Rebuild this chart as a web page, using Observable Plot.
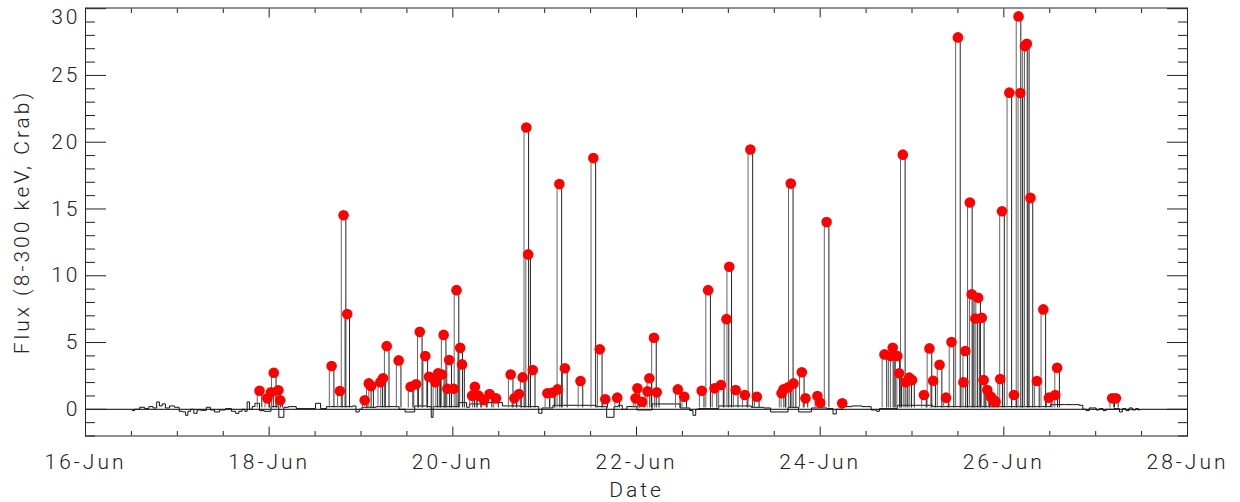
<!DOCTYPE html>
<html><head><meta charset="utf-8">
<script src="https://cdn.jsdelivr.net/npm/d3@7"></script>
<script src="https://cdn.jsdelivr.net/npm/@observablehq/plot@0.6"></script>
<style>
html,body{margin:0;padding:0;background:#fff;}
#chart svg{display:block}
</style></head><body><div id="chart"></div>
<script>
// ---- Flare peaks (day of June 2015, flux in Crab) ----
const flareDay = [17.895,17.98,18.02,18.05,18.10,18.12,18.68,18.77,18.81,18.85,
  19.04,19.085,19.11,19.21,19.24,19.28,19.41,19.54,19.60,19.64,19.70,19.74,19.81,19.84,19.88,19.90,19.94,19.96,
  20.01,20.04,20.08,20.10,20.21,20.24,20.28,20.34,20.40,20.47,20.63,20.67,20.72,20.76,20.80,20.82,20.87,
  21.03,21.08,21.14,21.16,21.22,21.39,21.53,21.60,21.66,21.79,21.99,
  22.01,22.06,22.12,22.14,22.19,22.22,22.45,22.52,22.71,22.78,22.85,22.92,22.98,
  23.01,23.08,23.18,23.24,23.31,23.58,23.60,23.65,23.68,23.71,23.80,23.84,23.97,
  24.00,24.07,24.24,24.70,24.77,24.79,24.84,24.86,24.90,24.93,24.97,
  25.00,25.13,25.19,25.23,25.30,25.37,25.43,25.50,25.56,25.58,25.63,25.65,25.69,25.72,25.76,25.78,25.82,25.86,25.88,25.89,25.91,25.96,25.98,
  26.06,26.11,26.16,26.18,26.23,26.25,26.29,26.36,26.43,26.49,26.56,26.58,
  27.18,27.22];
const flareFlux = [1.39,0.82,1.27,2.74,1.42,0.67,3.24,1.37,14.53,7.13,
  0.67,1.94,1.74,2.02,2.32,4.73,3.66,1.69,1.87,5.80,3.99,2.44,2.02,2.69,2.61,5.57,1.54,3.69,
  1.54,8.92,4.60,3.36,1.02,1.69,1.02,0.70,1.14,0.82,2.61,0.82,1.14,2.39,21.10,11.60,2.94,
  1.20,1.24,1.49,16.87,3.07,2.12,18.82,4.49,0.75,0.87,0.82,
  1.57,0.57,1.34,2.32,5.36,1.27,1.49,0.94,1.39,8.92,1.57,1.82,6.75,
  10.67,1.44,1.07,19.45,0.94,1.20,1.49,1.64,16.90,1.94,2.77,0.82,0.99,
  0.49,14.03,0.45,4.11,3.99,4.61,3.99,2.69,19.07,2.02,2.37,
  2.19,1.07,4.56,2.14,3.34,0.87,5.03,27.85,2.02,4.36,15.48,8.62,6.80,8.35,6.85,2.19,1.44,0.94,0.70,0.70,0.57,2.27,14.83,
  23.71,1.07,29.42,23.68,27.20,27.37,15.83,2.12,7.48,0.87,1.07,3.11,
  0.82,0.82];

// ---- Quiescent light curve (day of June 2015, flux in Crab) ----
const baseDay = [16.51,16.56,16.62,16.67,16.71,16.76,16.79,16.82,16.85,16.89,16.94,17.00,17.04,17.08,17.10,17.13,17.16,17.20,17.23,17.29,
  17.34,17.38,17.43,17.49,17.56,17.62,17.65,17.69,17.72,17.75,17.77,17.80,17.83,17.86,17.93,17.96,18.08,18.13,18.15,18.17,18.25,
  18.34,18.42,18.49,18.52,18.60,18.65,18.72,18.89,18.93,18.96,19.00,19.02,19.15,19.18,19.33,19.37,19.46,19.50,19.67,19.755,19.775,19.795,
  19.99,20.13,20.17,20.19,20.52,20.56,20.92,20.95,20.99,21.19,21.30,21.46,21.66,21.69,21.74,21.77,21.83,21.86,21.93,22.08,22.26,22.39,
  22.56,22.60,22.63,22.66,22.69,23.10,23.15,23.35,23.42,23.50,23.55,23.75,23.78,23.88,23.93,24.03,24.12,24.16,24.19,24.29,
  24.40,24.51,24.60,24.63,24.66,25.02,25.05,25.40,25.85,26.40,26.62,26.70,26.80,26.84,26.88,26.91,26.95,26.99,27.02,27.06,27.10,27.13,27.15,
  27.25,27.27,27.31,27.35,27.38,27.42,27.45,27.48];
const baseFlux = [-0.10,0.00,0.15,0.05,0.20,0.10,0.55,0.25,0.40,0.10,0.25,0.15,-0.15,-0.20,-0.45,-0.15,0.00,-0.30,-0.05,-0.08,
  0.15,-0.05,-0.20,-0.05,0.05,-0.15,-0.30,-0.15,0.00,-0.15,0.55,0.00,0.20,0.45,-0.10,-0.15,0.20,-0.60,-0.60,0.15,0.20,
  0.05,0.05,0.05,0.45,0.05,0.20,0.20,0.20,0.25,-0.20,0.00,0.15,0.15,0.20,0.20,0.20,0.00,-0.20,0.25,0.20,-0.60,0.20,
  0.20,0.50,0.15,0.40,0.50,0.25,0.20,-0.30,0.10,0.30,0.30,0.30,0.20,-0.60,-0.60,0.20,0.30,0.00,0.20,-0.05,0.40,0.40,
  0.10,-0.10,-0.45,0.00,0.05,0.25,0.25,0.15,0.10,-0.20,-0.20,0.15,-0.20,-0.20,0.10,0.10,0.05,-0.35,0.00,0.20,
  0.25,0.20,-0.05,-0.15,0.05,0.30,0.30,0.20,0.20,0.20,0.35,0.35,0.35,0.30,0.00,-0.10,0.10,0.10,-0.05,0.05,-0.10,0.00,0.00,
  0.05,-0.20,0.05,-0.10,0.10,-0.05,0.05,-0.05];

// ---- Axis ticks and labels ----
const yLabelTicks = [0, 5, 10, 15, 20, 25];
const yTopLabel = [30];
const yMajorTicks = [0, 5, 10, 15, 20, 25, 30];
const yMinorTicks = d3.range(-2, 31).filter(v => v % 5 !== 0);
const xTickDays = [16, 18, 20, 22, 24, 26, 28];
const xTickLabels = ["16-Jun", "18-Jun", "20-Jun", "22-Jun", "24-Jun", "26-Jun", "28-Jun"];
const xMinorDays = d3.range(16, 28.01, 0.5).filter(v => v % 2 !== 0);
const xTitle = "Date";
const yTitle = "Flux (8-300 keV, Crab)";

const toDate = d => new Date(Date.UTC(2015, 5, 1) + (d - 1) * 864e5);
const flares = flareDay.map((d, i) => ({t: toDate(d), f: flareFlux[i]}));
const base = baseDay.map((d, i) => ({t: toDate(d), f: baseFlux[i]}));
const xMajor = xTickDays.map(toDate);
const xMinor = xMinorDays.map(toDate);
const labelByTime = new Map(xMajor.map((d, i) => [+d, xTickLabels[i]]));
const halfBin = 0.025 * 864e5;
const ink = "#222";

const chart = Plot.plot({
  width: 1240, height: 502,
  marginLeft: 85, marginRight: 53, marginTop: 7.5, marginBottom: 66.5,
  x: {type: "utc", domain: [toDate(16), toDate(28)]},
  y: {domain: [-2, 30.05]},
  style: {fontFamily: "Roboto, 'DejaVu Sans', sans-serif", fontWeight: 300, fontSize: "21px", color: ink, letterSpacing: "3px", background: "#fff"},
  marks: [
    Plot.ruleY([0], {stroke: "#000", strokeWidth: 1}),
    Plot.line(base, {x: "t", y: "f", curve: "step", stroke: "#111", strokeWidth: 1}),
    Plot.ruleX(flares, {x: d => new Date(+d.t - halfBin), y1: 0.1, y2: "f", stroke: "#666", strokeWidth: 1}),
    Plot.ruleX(flares, {x: d => new Date(+d.t + halfBin), y1: 0.1, y2: "f", stroke: "#222", strokeWidth: 1}),
    Plot.dot(flares, {x: "t", y: "f", r: 5.3, fill: "#ff0000", stroke: "none"}),
    Plot.frame({stroke: ink, strokeWidth: 1}),
    // inward ticks: left / right
    Plot.axisY(yMajorTicks, {anchor: "left", tickSize: 21, dx: 21, fill: "none", label: null, stroke: ink}),
    Plot.axisY(yMinorTicks, {anchor: "left", tickSize: 10, dx: 10, fill: "none", label: null, stroke: ink}),
    Plot.axisY(yMajorTicks, {anchor: "right", tickSize: 21, dx: -21, fill: "none", label: null, stroke: ink}),
    Plot.axisY(yMinorTicks, {anchor: "right", tickSize: 10, dx: -10, fill: "none", label: null, stroke: ink}),
    // inward ticks: bottom / top
    Plot.axisX(xMajor, {anchor: "bottom", tickSize: 9, dy: -9, fill: "none", label: null, stroke: ink}),
    Plot.axisX(xMinor, {anchor: "bottom", tickSize: 4.5, dy: -4.5, fill: "none", label: null, stroke: ink}),
    Plot.axisX(xMajor, {anchor: "top", tickSize: 9, dy: 9, fill: "none", label: null, stroke: ink}),
    Plot.axisX(xMinor, {anchor: "top", tickSize: 4.5, dy: 4.5, fill: "none", label: null, stroke: ink}),
    // tick labels
    Plot.axisY(yLabelTicks, {anchor: "left", tickSize: 0, tickPadding: 5, stroke: "none", label: null, fill: ink}),
    Plot.axisY(yTopLabel, {anchor: "left", tickSize: 0, tickPadding: 5, dy: 9, stroke: "none", label: null, fill: ink}),
    Plot.axisX(xMajor, {anchor: "bottom", tickSize: 0, tickPadding: 18, stroke: "none", label: null, fill: ink, tickFormat: d => labelByTime.get(+d)}),
    // axis titles
    Plot.text([xTitle], {frameAnchor: "bottom", dy: 61, fill: ink, textAnchor: "middle"}),
    Plot.text([yTitle], {frameAnchor: "left", dx: -63, rotate: -90, fill: ink, textAnchor: "middle"})
  ]
});
document.getElementById("chart").append(chart);
</script></body></html>
